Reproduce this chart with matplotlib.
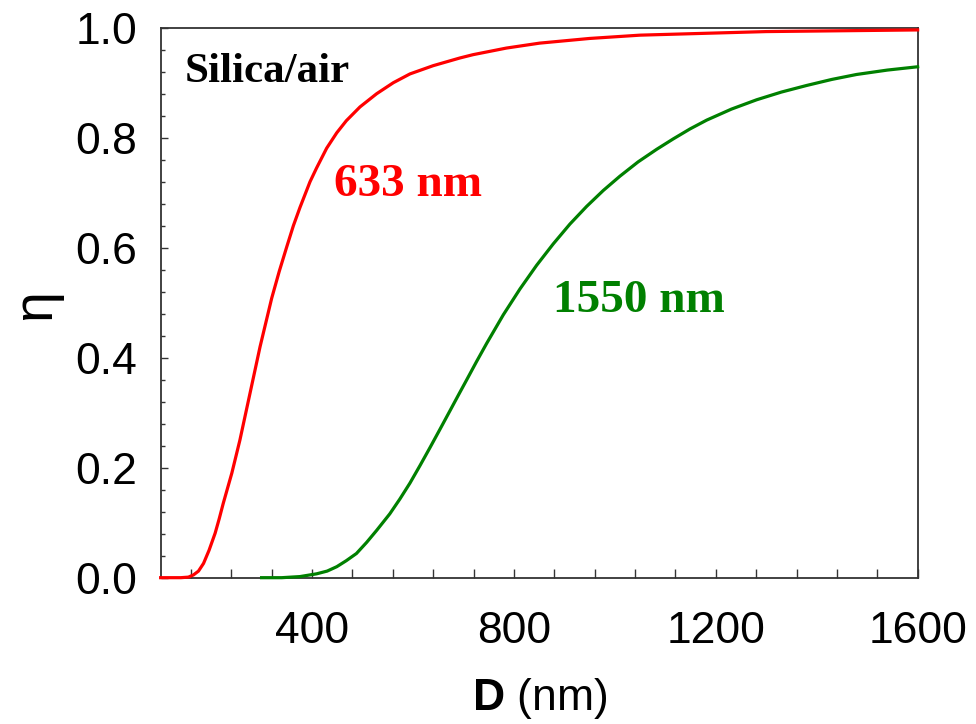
import matplotlib
matplotlib.use('Agg')
import matplotlib.pyplot as plt
from matplotlib.ticker import MultipleLocator

# curve values
d_633 = [100, 140, 155, 165, 175, 185, 196, 208, 216, 224, 241, 257, 277, 297,
         320, 335, 350, 363, 376, 396, 409, 429, 449, 468, 495, 528, 561, 594,
         640, 693, 719, 785, 851, 950, 1050, 1300, 1600]
eta_633 = [0.0, 0.0, 0.001, 0.005, 0.012, 0.026, 0.05, 0.081, 0.107, 0.135, 0.19,
           0.25, 0.335, 0.42, 0.508, 0.557, 0.602, 0.64, 0.673, 0.72, 0.745,
           0.781, 0.809, 0.831, 0.856, 0.88, 0.9, 0.916, 0.931, 0.945, 0.951,
           0.963, 0.972, 0.9805, 0.9865, 0.993, 0.996]

d_1550 = [300, 340, 376, 409, 430, 449, 468, 488, 508, 528, 554, 574, 594, 614,
          634, 653, 673, 690, 706, 726, 746, 779, 812, 845, 878, 911, 944, 977,
          1010, 1046, 1083, 1116, 1149, 1182, 1231, 1281, 1330, 1380, 1430,
          1479, 1540, 1600]
eta_1550 = [0.0, 0.0, 0.002, 0.007, 0.012, 0.02, 0.031, 0.044, 0.064, 0.086,
            0.116, 0.143, 0.172, 0.204, 0.237, 0.269, 0.303, 0.332, 0.359, 0.393,
            0.426, 0.478, 0.525, 0.568, 0.607, 0.643, 0.675, 0.704, 0.730, 0.756,
            0.779, 0.798, 0.816, 0.832, 0.852, 0.869, 0.883, 0.895, 0.906, 0.915,
            0.923, 0.929]

x_ticks = [400, 800, 1200, 1600]
y_ticks = [0.0, 0.2, 0.4, 0.6, 0.8, 1.0]

plt.rcParams['font.family'] = ['Liberation Sans', 'DejaVu Sans']
plt.rcParams['mathtext.fontset'] = 'custom'
plt.rcParams['mathtext.rm'] = 'Liberation Sans'
plt.rcParams['mathtext.bf'] = 'Liberation Sans:bold'

fig = plt.figure(figsize=(9.76, 7.24), dpi=100)
ax = fig.add_axes([0.1646, 0.2021, 0.7756, 0.7596])

ax.plot(d_633, eta_633, color='#ff0000', lw=2.3, clip_on=False, zorder=3,
        solid_joinstyle='round')
ax.plot(d_1550, eta_1550, color='#008000', lw=2.3, clip_on=False, zorder=3,
        solid_joinstyle='round')

ax.set_xlim(100, 1600)
ax.set_ylim(0, 1.0)
ax.set_xticks(x_ticks)
ax.set_yticks(y_ticks)
ax.set_yticklabels([f'{v:.1f}' for v in y_ticks])
ax.xaxis.set_minor_locator(MultipleLocator(80))
ax.yaxis.set_minor_locator(MultipleLocator(0.04))

ax.tick_params(axis='both', which='both', direction='in', color='#333333',
               width=1.0, top=False, right=False, labelsize=32)
ax.tick_params(axis='x', which='both', length=6.5, pad=24)
ax.tick_params(axis='y', which='major', length=5.3, pad=17)
ax.tick_params(axis='y', which='minor', length=3.1)

for s in ax.spines.values():
    s.set_color('#333333')
    s.set_linewidth(1.3)

ax.set_xlabel(r'$\mathbf{D}$ (nm)', fontsize=32, labelpad=17)
fig.text(36 / 976, 1 - 305 / 724, '\u03b7', rotation=90, fontsize=40,
         ha='center', va='center')

serif = ['Liberation Serif', 'DejaVu Serif']
ax.text(148, 0.902, 'Silica/air', family=serif, fontweight='bold',
        fontsize=31, color='black', ha='left', va='baseline')
ax.text(444, 0.694, '633 nm', family=serif, fontweight='bold',
        fontsize=34, color='#ff0000', ha='left', va='baseline')
ax.text(878, 0.484, '1550 nm', family=serif, fontweight='bold',
        fontsize=34, color='#008000', ha='left', va='baseline')

fig.savefig('out.png', dpi=100)
